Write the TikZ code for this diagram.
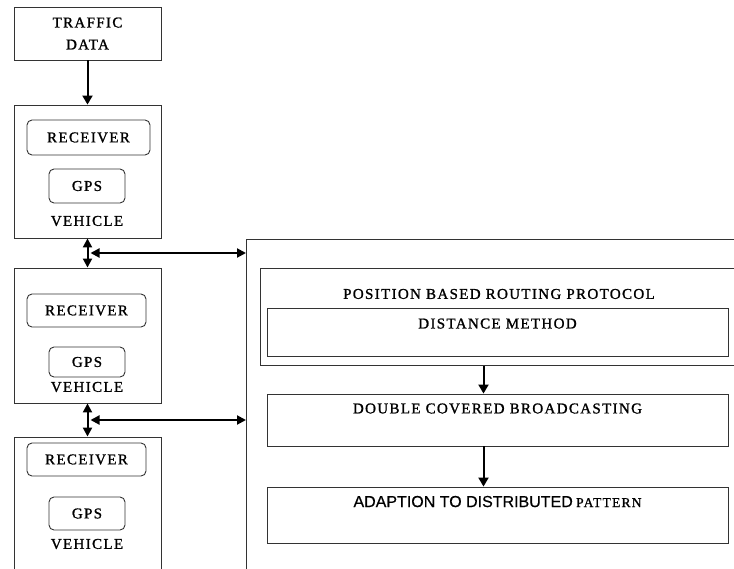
\documentclass[tikz,border=0pt]{standalone}
\usepackage{fontspec}
\setmainfont{Liberation Serif}[LetterSpace=9, FakeBold=1.2]
\setsansfont{Liberation Sans}[FakeBold=0.6]
\usetikzlibrary{arrows.meta,calc}

\tikzset{
  box/.style={draw=black!80, line width=0.9pt, inner sep=0pt},
  part/.style={box, rounded corners=5pt},
  lbl/.style={inner sep=0pt, font=\fontsize{15}{22}\selectfont},
  link/.style={line width=2pt, {Triangle[length=9pt,width=9pt]}-{Triangle[length=9pt,width=9pt]}},
  flow/.style={line width=2pt, -{Triangle[length=9pt,width=10pt]}}
}

\begin{document}
\begin{tikzpicture}[x=1pt,y=-1pt]
        \clip (0,0) rectangle (734,568);

        \node[box, lbl, align=center, minimum width=147, minimum height=53] (traffic) at (87.5,33.5) {TRAFFIC\\DATA};

        \node[box, minimum width=147, minimum height=133] (veh1) at (87.5,171.5) {};
        \node[box, minimum width=147, minimum height=135] (veh2) at (87.5,335.5) {};
        \node[box, minimum width=147, minimum height=163] (veh3) at (87.5,518.5) {};

        \node[part, lbl, minimum width=123, minimum height=35] (rcv1) at (88.5,137.5) {RECEIVER};
        \node[part, lbl, minimum width=76, minimum height=34] (gps1) at (87,186) {GPS};
        \node[lbl] (name1) at (87,221) {VEHICLE};

        \node[part, lbl, minimum width=119, minimum height=33] (rcv2) at (86.5,310.5) {RECEIVER};
        \node[part, lbl, minimum width=76, minimum height=30] (gps2) at (87,362) {GPS};
        \node[lbl] (name2) at (87,387) {VEHICLE};

        \node[part, lbl, minimum width=119, minimum height=33] (rcv3) at (86.5,459.5) {RECEIVER};
        \node[part, lbl, minimum width=76, minimum height=33] (gps3) at (87,513.5) {GPS};
        \node[lbl] (name3) at (87,544) {VEHICLE};

        \node[box, anchor=north west, minimum width=500, minimum height=340] (routing) at (246,239) {};
        \node[box, anchor=north west, minimum width=480, minimum height=97] (pbr) at (260,268) {};
        \node[lbl] (pbrtext) at (499,294) {POSITION BASED ROUTING PROTOCOL};

        \node[box, minimum width=461, minimum height=48] (dist) at (497.5,332) {};
        \node[lbl] (disttext) at ($(dist.north)+(0,16)$) {DISTANCE METHOD};

        \node[box, minimum width=461, minimum height=52] (dcb) at (497.5,420) {};
        \node[lbl] (dcbtext) at ($(dcb.north)+(0,15)$) {DOUBLE COVERED BROADCASTING};

        \node[box, minimum width=461, minimum height=56] (adapt) at (497.5,515) {};
        \node[inner sep=0pt] (adapttext) at ($(adapt.north)+(0,15)$) {{\sffamily\fontsize{16}{20}\selectfont ADAPTION TO DISTRIBUTED} {\fontsize{13.5}{16}\selectfont PATTERN}};

        \draw[flow] (traffic) -- (veh1);
        \draw[link] (veh1) -- (veh2);
        \draw[link] (veh2) -- (veh3);

        \coordinate (j1) at ($(veh1.south)!0.5!(veh2.north)$);
        \coordinate (j2) at ($(veh2.south)!0.5!(veh3.north)$);
        \draw[link] ([xshift=3pt]j1) -- (j1 -| routing.west);
        \draw[link] ([xshift=3pt]j2) -- (j2 -| routing.west);

        \draw[flow] ([xshift=-14pt]dcb.north |- pbr.south) -- ([xshift=-14pt]dcb.north);
        \draw[flow] ([xshift=-14pt]dcb.south) -- ([xshift=-14pt]adapt.north);
\end{tikzpicture}
\end{document}
